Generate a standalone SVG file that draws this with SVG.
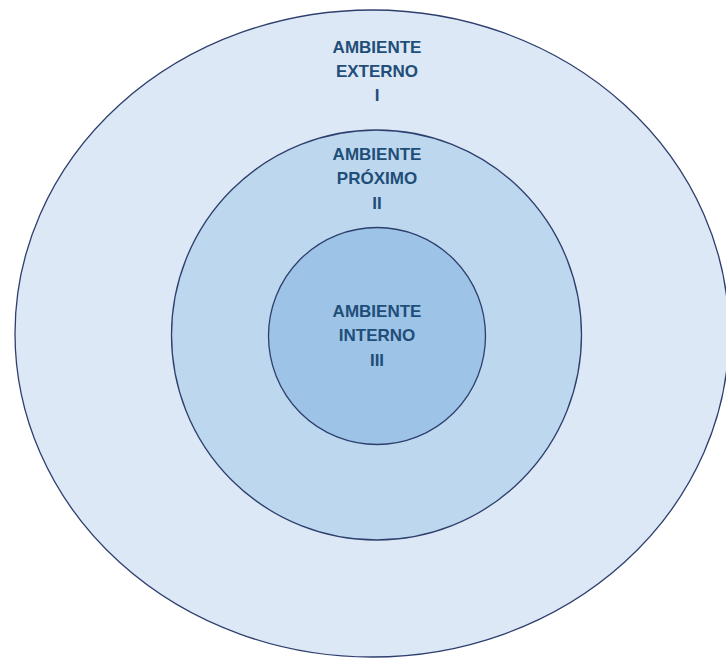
<svg xmlns="http://www.w3.org/2000/svg" width="726" height="659" viewBox="0 0 726 659">
  <style>
    .ring { stroke: #2e3f6e; stroke-width: 1.3; }
    .lbl { font-family: "Liberation Sans", Arial, sans-serif; font-weight: bold; font-size: 17px; fill: #1f4e79; text-anchor: middle; }
  </style>
  <rect width="726" height="659" fill="#ffffff"/>

  <!-- Outer ring: external environment -->
  <g id="ambiente-externo">
    <ellipse class="ring" cx="372" cy="333.5" rx="357" ry="323.5" fill="#dce8f5"/>
    <text class="lbl" x="377" y="53">AMBIENTE</text>
    <text class="lbl" x="377" y="77">EXTERNO</text>
    <text class="lbl" x="377" y="101">I</text>
  </g>

  <!-- Middle ring: proximate environment -->
  <g id="ambiente-proximo">
    <circle class="ring" cx="376.5" cy="335" r="205" fill="#bdd7ee"/>
    <text class="lbl" x="377" y="160">AMBIENTE</text>
    <text class="lbl" x="377" y="184">PRÓXIMO</text>
    <text class="lbl" x="377" y="209">II</text>
  </g>

  <!-- Inner ring: internal environment -->
  <g id="ambiente-interno">
    <circle class="ring" cx="377" cy="336" r="108.5" fill="#9dc3e6"/>
    <text class="lbl" x="377" y="317">AMBIENTE</text>
    <text class="lbl" x="377" y="341">INTERNO</text>
    <text class="lbl" x="377" y="366">III</text>
  </g>

  <g id="connectors"/>
</svg>
